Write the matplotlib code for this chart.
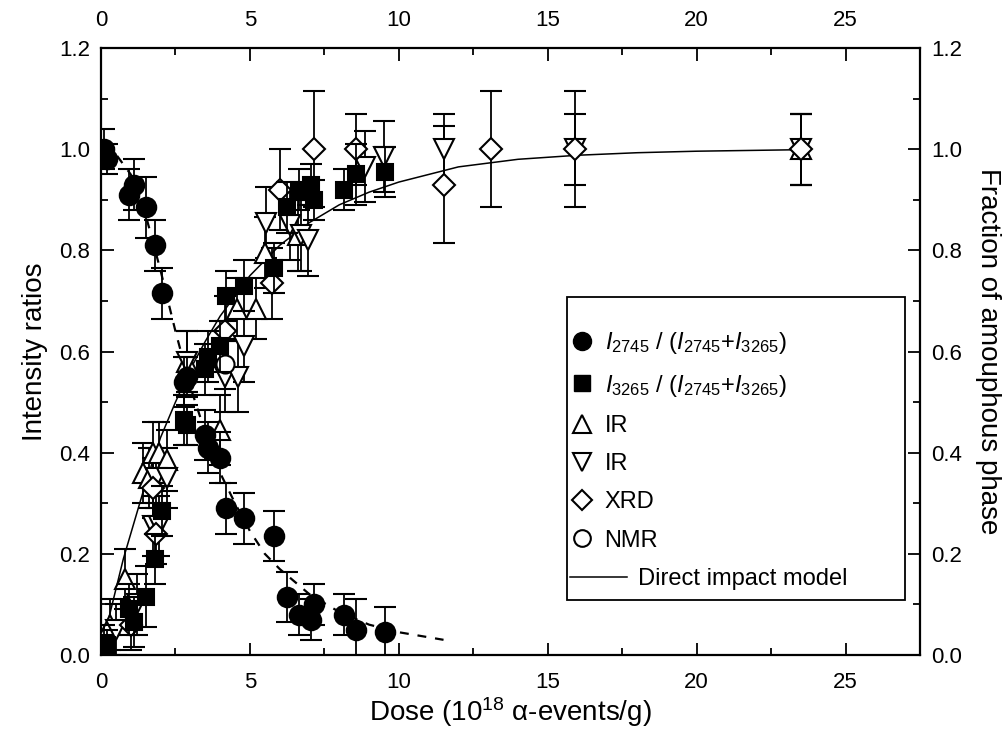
import matplotlib.pyplot as plt
from matplotlib.lines import Line2D
from matplotlib.patches import Rectangle
from matplotlib.legend_handler import HandlerBase

plt.rcParams['font.family'] = ['Liberation Sans', 'DejaVu Sans']
plt.rcParams['mathtext.fontset'] = 'custom'
plt.rcParams['mathtext.rm'] = 'Liberation Sans'
plt.rcParams['mathtext.it'] = 'Liberation Sans:italic'

# I2745 / (I2745 + I3265)  (filled circles)
c_x = [0.1, 0.2, 0.95, 1.1, 1.5, 1.8, 2.05, 2.8, 2.9, 3.5, 3.6, 4.0, 4.2, 4.8, 5.8,
       6.25, 6.65, 7.05, 7.15, 8.15, 8.55, 9.55]
c_y = [1.0, 0.98, 0.91, 0.93, 0.885, 0.81, 0.715, 0.54, 0.55, 0.435, 0.41, 0.39, 0.29, 0.27, 0.235,
       0.115, 0.08, 0.07, 0.10, 0.08, 0.05, 0.045]
c_err = [0.04, 0.03, 0.05, 0.05, 0.06, 0.05, 0.05, 0.05, 0.04, 0.05, 0.05, 0.05, 0.05, 0.05, 0.05,
         0.05, 0.04, 0.04, 0.04, 0.04, 0.06, 0.05]

# I3265 / (I2745 + I3265)  (filled squares)
s_x = c_x
s_y = [0.02, 0.02, 0.09, 0.065, 0.115, 0.19, 0.285, 0.465, 0.455, 0.565, 0.59, 0.61, 0.71, 0.73, 0.765,
       0.885, 0.92, 0.93, 0.90, 0.92, 0.95, 0.955]
s_err = c_err

# IR (up triangles)
tu_x = [0.3, 0.8, 1.4, 1.6, 1.75, 1.95, 2.2, 2.9, 4.0, 4.55, 5.2, 5.5, 6.6, 23.5]
tu_y = [0.06, 0.15, 0.36, 0.35, 0.40, 0.40, 0.385, 0.58, 0.445, 0.685, 0.685, 0.795, 0.83, 1.0]
tu_err = [0.05, 0.06, 0.06, 0.06, 0.06, 0.06, 0.06, 0.06, 0.07, 0.06, 0.06, 0.07, 0.07, 0.07]

# IR (down triangles)
td_x = [0.5, 1.2, 1.75, 1.95, 1.85, 2.2, 2.9, 4.15, 4.6, 4.8, 5.55, 6.35, 6.7, 6.95, 8.85, 9.5,
        11.5, 15.9, 23.5]
td_y = [0.05, 0.1, 0.255, 0.255, 0.35, 0.35, 0.58, 0.55, 0.55, 0.61, 0.855, 0.85, 0.83, 0.82, 0.965, 0.985,
        1.0, 1.0, 1.0]
td_err = [0.05, 0.06, 0.06, 0.06, 0.06, 0.06, 0.06, 0.07, 0.07, 0.07, 0.07, 0.07, 0.07, 0.07, 0.07, 0.07,
          0.07, 0.07, 0.07]

# XRD (diamonds)
d_x = [1.0, 1.85, 1.75, 4.15, 5.75, 6.0, 7.15, 8.55, 11.5, 13.1, 15.9, 23.5]
d_y = [0.06, 0.24, 0.33, 0.64, 0.735, 0.92, 1.0, 1.0, 0.93, 1.0, 1.0, 1.0]
d_err = [0.05, 0.06, 0.06, 0.07, 0.07, 0.08, 0.115, 0.07, 0.115, 0.115, 0.115, 0.07]

# NMR (open circles)
o_x = [4.15]
o_y = [0.575]
o_err = [0.05]

# direct impact model (solid line)
m_x = [0, 0.25, 0.5, 0.75, 1, 1.5, 2, 2.5, 3, 3.5, 4, 5, 6, 7, 8, 9, 10, 12, 14, 16, 18, 20, 23.5]
m_y = [0, 0.07, 0.13, 0.19, 0.24, 0.34, 0.43, 0.50, 0.565, 0.62, 0.67, 0.75, 0.81, 0.855, 0.89, 0.915,
       0.935, 0.965, 0.98, 0.988, 0.993, 0.996, 0.999]

# guide line for the I2745 ratio (dashed)
g_x = [0, 0.5, 1.0, 1.5, 2.0, 2.5, 3.0, 3.5, 4.0, 4.5, 5.0, 5.5, 6.0, 7.0, 8.0, 9.0, 10.0, 11.5]
g_y = [1.0, 0.99, 0.95, 0.87, 0.76, 0.64, 0.53, 0.44, 0.36, 0.30, 0.245, 0.20, 0.17, 0.12, 0.085, 0.06,
       0.045, 0.03]


class LongLineHandler(HandlerBase):
    # legend line that runs past the marker column, as in the original
    def create_artists(self, legend, orig_handle, xdescent, ydescent, width, height, fontsize, trans):
        y = height / 2.0 - ydescent
        line = Line2D([-xdescent, -xdescent + width + 24], [y, y], color='k', lw=1.1)
        line.set_transform(trans)
        return [line]


fig = plt.figure(figsize=(10.05, 7.32), dpi=100)
ax = fig.add_axes([0.1005, 0.1052, 0.815, 0.8292])

eb = dict(ls='none', color='k', ecolor='k', elinewidth=1.3, capsize=8, capthick=1.3,
          markeredgewidth=1.5)

ax.plot(m_x, m_y, '-', color='k', lw=1.1, zorder=2)
ax.plot(g_x, g_y, '--', color='k', lw=1.6, dashes=(4, 4), zorder=2)

ax.errorbar(tu_x, tu_y, yerr=tu_err, fmt='^', ms=15, mfc='white', zorder=3, **eb)
ax.errorbar(td_x, td_y, yerr=td_err, fmt='v', ms=15, mfc='white', zorder=3, **eb)
ax.errorbar(d_x, d_y, yerr=d_err, fmt='D', ms=11, mfc='white', zorder=3, **eb)
ax.errorbar(o_x, o_y, yerr=o_err, fmt='o', ms=13, mfc='white', zorder=3, **eb)
ax.errorbar(s_x, s_y, yerr=s_err, fmt='s', ms=12, mfc='k', zorder=4, **eb)
ax.errorbar(c_x, c_y, yerr=c_err, fmt='o', ms=14, mfc='k', zorder=4, **eb)

ax.set_xlim(0, 27.5)
ax.set_ylim(0, 1.2)
ax.set_xticks([0, 5, 10, 15, 20, 25])
ax.set_xticks([2.5, 7.5, 12.5, 17.5, 22.5, 27.5], minor=True)
ax.set_yticks([0, 0.2, 0.4, 0.6, 0.8, 1.0, 1.2])
ax.set_yticks([0.1, 0.3, 0.5, 0.7, 0.9, 1.1], minor=True)
ax.set_yticklabels(['0.0', '0.2', '0.4', '0.6', '0.8', '1.0', '1.2'])

for s in ax.spines.values():
    s.set_linewidth(1.6)
ax.tick_params(which='both', direction='in', top=True, right=True,
               labeltop=True, labelright=True, width=1.3, labelsize=16)
ax.tick_params(axis='x', which='major', pad=12)
ax.tick_params(axis='y', which='major', pad=8)
ax.tick_params(which='major', length=9)
ax.tick_params(which='minor', length=5)

ax.set_xlabel('Dose (10$^{18}$ α-events/g)', fontsize=20, labelpad=2)
ax.set_ylabel('Intensity ratios', fontsize=20, labelpad=8)
ax.text(1.083, 0.5, 'Fraction of amouphous phase', transform=ax.transAxes, rotation=-90,
        fontsize=20, ha='center', va='center')

# legend box
ax.add_patch(Rectangle((0.569, 0.0906), 0.413, 0.4994, transform=ax.transAxes,
                       fill=False, ec='k', lw=1.3, zorder=5))

handles = [
    Line2D([], [], marker='o', ls='none', color='k', ms=13),
    Line2D([], [], marker='s', ls='none', color='k', ms=12),
    Line2D([], [], marker='^', ls='none', color='k', mfc='white', ms=13, mew=1.5),
    Line2D([], [], marker='v', ls='none', color='k', mfc='white', ms=13, mew=1.5),
    Line2D([], [], marker='D', ls='none', color='k', mfc='white', ms=10, mew=1.5),
    Line2D([], [], marker='o', ls='none', color='k', mfc='white', ms=12, mew=1.5),
    Line2D([], [], ls='-', color='k', lw=1.1),
]
labels = [
    r'$I_{2745}$ / ($I_{2745}$+$I_{3265}$)',
    r'$I_{3265}$ / ($I_{2745}$+$I_{3265}$)',
    'IR', 'IR', 'XRD', 'NMR', '     Direct impact model',
]
leg = ax.legend(handles, labels, loc='upper left', bbox_to_anchor=(0.573, 0.535),
                fontsize=17, frameon=False, handlelength=1.0, handletextpad=0.45,
                labelspacing=0.69, borderpad=0, borderaxespad=0,
                handler_map={handles[-1]: LongLineHandler()})

fig.savefig('out.png', dpi=100)
